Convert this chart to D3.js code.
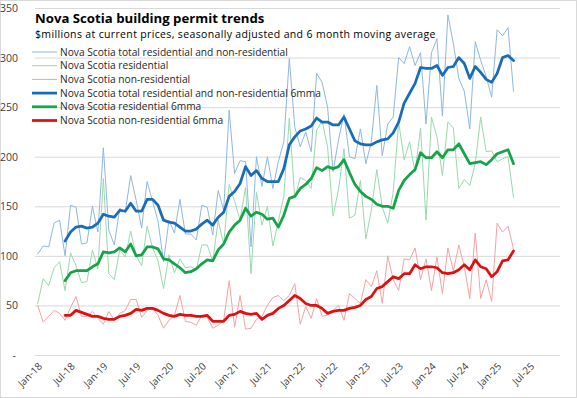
<!DOCTYPE html>
<html>
<head>
<meta charset="utf-8">
<title>Nova Scotia building permit trends</title>
<script src="https://cdn.jsdelivr.net/npm/d3@7"></script>
<style>
  body { margin: 0; background: #fff; }
  svg { display: block; font-family: "Open Sans", "Noto Sans", sans-serif; }
</style>
</head>
<body>
<svg width="577" height="398"></svg>
<script>
// monthly categories Jan-18 .. Dec-25
var months = d3.timeMonths(new Date(2018, 0, 1), new Date(2026, 0, 1)).map(d3.timeFormat("%b-%y"));

var tickLabels = ["Jan-18","Jul-18","Jan-19","Jul-19","Jan-20","Jul-20","Jan-21","Jul-21",
  "Jan-22","Jul-22","Jan-23","Jul-23","Jan-24","Jul-24","Jan-25","Jul-25"];
var yTicks = [0, 50, 100, 150, 200, 250, 300, 350];

// monthly values, Jan-18 .. Apr-25
var total = [102,110,109,133,136,100,151,149,112,113,150,124,209,126,111,
  148,144,181,156,128,175,155,135,94,136,123,157,122,122,116,
  151,149,121,166,146,247,183,196,195,109,200,170,200,168,195,
  215,299,230,210,225,205,284,275,250,185,217,243,200,198,228,
  193,215,272,201,233,240,300,294,311,292,305,233,305,319,241,
  343,314,279,266,228,316,297,281,260,328,322,330,266];

var residential = [52,77,70,88,94,65,103,90,73,74,106,87,178,82,76,
  106,99,125,100,90,130,108,95,67,101,83,97,88,89,86,
  111,111,94,136,111,172,155,136,169,82,164,131,150,110,135,
  160,239,158,179,176,168,227,236,210,140,167,208,138,141,176,
  117,146,187,149,133,164,235,197,215,184,229,136,240,220,181,
  235,229,168,177,171,193,240,205,206,195,198,200,159];

var nonResidential = [50,33,39,45,42,35,48,59,39,39,44,37,31,44,35,
  42,45,56,56,38,45,47,40,27,35,40,60,34,33,30,
  40,38,27,30,35,75,28,60,26,27,36,39,50,58,60,
  55,60,72,31,49,37,57,39,40,45,50,35,62,57,52,
  76,69,85,52,100,76,65,97,96,108,76,97,65,99,62,
  108,85,111,89,57,123,57,76,54,133,124,130,107];

// 6 month moving averages (start Jun-18)
var total6 = [null,null,null,null,null,
  115,124,129,130,128,129,133,142,140,139,
  146,145,153,145,145,157,157,151,136,134,133,129,125,125,127,
  132,136,131,139,144,160,165,173,190,181,186,178,175,175,175,
  188,212,220,226,228,231,239,235,235,232,232,240,228,216,213,
  212,212,215,217,218,224,235,254,264,274,290,289,289,292,282,
  290,291,300,294,279,291,285,278,275,284,300,302,297];

var residential6 = [null,null,null,null,null,
  75,83,85,85,85,89,92,104,103,104,
  108,104,112,100,101,109,109,107,97,96,92,88,83,84,87,
  92,96,95,106,112,124,131,136,148,140,144,142,137,138,129,
  141,158,160,168,172,178,189,186,190,188,190,197,184,172,165,
  160,157,152,150,150,148,166,176,182,187,204,199,199,205,199,
  207,207,213,203,193,194,195,192,197,203,205,207,193];

var nonResidential6 = [null,null,null,null,null,
  40,40,45,43,41,39,39,37,36,36,
  39,40,42,46,45,47,47,45,42,40,39,41,40,40,39,
  39,40,34,34,34,40,41,44,42,41,42,36,40,42,47,
  50,55,60,57,52,50,50,47,42,44,45,45,47,48,50,
  56,59,67,69,74,79,77,82,82,91,87,89,89,88,83,
  82,83,86,91,86,96,89,87,79,84,95,96,105];

var series = [
  { name: "Nova Scotia total residential and non-residential", values: total, color: "#8fb8e0", width: 1 },
  { name: "Nova Scotia residential", values: residential, color: "#9ad9ae", width: 1 },
  { name: "Nova Scotia non-residential", values: nonResidential, color: "#f3a3a3", width: 1 },
  { name: "Nova Scotia total residential and non-residential 6mma", values: total6, color: "#1a6db5", width: 2.75 },
  { name: "Nova Scotia residential 6mma", values: residential6, color: "#17a34a", width: 2.75 },
  { name: "Nova Scotia non-residential 6mma", values: nonResidential6, color: "#e01010", width: 2.75 }
];

var svg = d3.select("svg");

// chart border
svg.append("rect")
  .attr("x", 0.5).attr("y", 0.5)
  .attr("width", 576).attr("height", 397)
  .attr("fill", "#fff")
  .attr("stroke", "#d9d9d9");

var x = d3.scaleBand().domain(months).range([35, 560]);
var y = d3.scaleLinear().domain([0, 350]).range([355, 8]);

// gridlines
svg.append("g")
  .selectAll("line")
  .data(yTicks)
  .enter().append("line")
  .attr("x1", 35).attr("x2", 560)
  .attr("y1", function(d) { return y(d) + 0.5; })
  .attr("y2", function(d) { return y(d) + 0.5; })
  .attr("stroke", "#d9d9d9")
  .attr("stroke-width", 1);

// y labels
svg.append("g")
  .selectAll("text")
  .data(yTicks)
  .enter().append("text")
  .attr("x", function(d) { return d === 0 ? 16 : 18; })
  .attr("y", function(d) { return y(d) + 4; })
  .attr("text-anchor", "end")
  .attr("font-size", "10.5px")
  .attr("fill", "#404040")
  .text(function(d) { return d === 0 ? "-" : d; });

// x labels
svg.append("g")
  .selectAll("text")
  .data(tickLabels)
  .enter().append("text")
  .attr("text-anchor", "end")
  .attr("font-size", "10px")
  .attr("fill", "#404040")
  .attr("transform", function(d) {
    var cx = x(d) + x.bandwidth() / 2 + 5;
    return "translate(" + cx + ",367) rotate(-45)";
  })
  .text(function(d) { return d; });

var line = d3.line()
  .defined(function(d) { return d != null; })
  .x(function(d, i) { return x(months[i]) + x.bandwidth() / 2; })
  .y(function(d) { return y(d); });

svg.append("g")
  .selectAll("path")
  .data(series)
  .enter().append("path")
  .attr("fill", "none")
  .attr("stroke", function(d) { return d.color; })
  .attr("stroke-width", function(d) { return d.width; })
  .attr("stroke-linejoin", "round")
  .attr("stroke-linecap", "round")
  .attr("d", function(d) { return line(d.values); });

// title
svg.append("text")
  .attr("x", 35).attr("y", 23)
  .attr("font-size", "13.2px")
  .attr("font-weight", "bold")
  .attr("fill", "#000")
  .text("Nova Scotia building permit trends");

svg.append("text")
  .attr("x", 35).attr("y", 38)
  .attr("font-size", "10.5px")
  .attr("letter-spacing", "0.35px")
  .attr("fill", "#000")
  .text("$millions at current prices, seasonally adjusted and 6 month moving average");

// legend
var legend = svg.append("g")
  .selectAll("g")
  .data(series)
  .enter().append("g")
  .attr("transform", function(d, i) { return "translate(32," + (52 + i * 13.7) + ")"; });

legend.append("line")
  .attr("x1", 0).attr("x2", 25)
  .attr("stroke", function(d) { return d.color; })
  .attr("stroke-width", function(d) { return d.width; });

legend.append("text")
  .attr("x", 28).attr("y", 3.5)
  .attr("font-size", "10.2px")
  .attr("fill", "#262626")
  .text(function(d) { return d.name; });
</script>
</body>
</html>
